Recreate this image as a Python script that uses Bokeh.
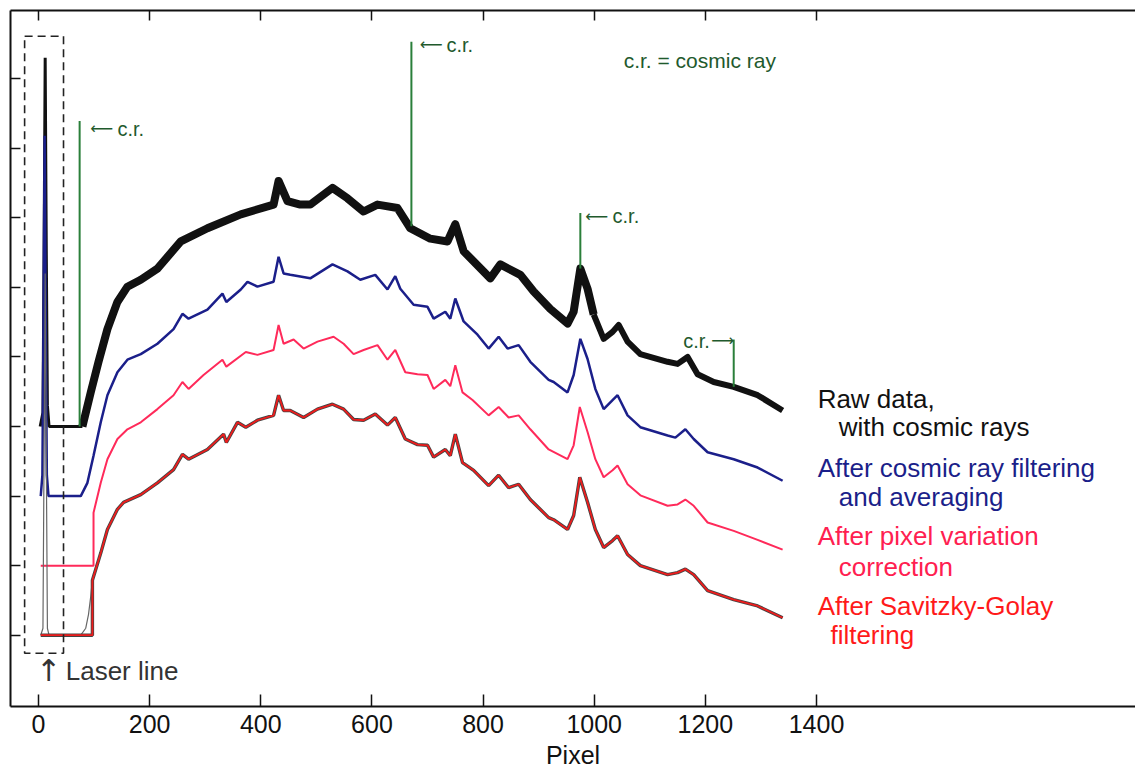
from bokeh.plotting import figure
from bokeh.models import Range1d, FixedTicker, LinearAxis, BoxAnnotation, Label, CustomLabelingPolicy
from bokeh.embed import file_html
from bokeh.resources import INLINE

# ---------------- data ----------------
# Raw data, with cosmic rays (offset 3)
black_pix = [3, 8, 10, 12, 14, 16, 19, 74, 79, 94, 108, 124, 142, 160, 184, 214,
             256, 304, 364, 423, 432, 448, 471, 489, 529, 556, 585, 610,
             646, 669, 705, 736, 750, 765, 813, 831, 867, 891, 921, 952,
             963, 975, 988, 999, 1017, 1033, 1044, 1060, 1083, 1132, 1150, 1168,
             1186, 1215, 1251, 1294, 1339]
black_y = [3.0, 3.2, 5.5, 8.30, 5.5, 3.3, 3.0, 3.0, 3.0, 3.49, 3.93, 4.40, 4.79, 5.01, 5.11, 5.27,
           5.66, 5.85, 6.05, 6.19, 6.53, 6.24, 6.19, 6.19, 6.43, 6.28, 6.09, 6.19,
           6.14, 5.85, 5.70, 5.66, 5.91, 5.52, 5.13, 5.33, 5.18, 4.94, 4.69, 4.48,
           4.65, 5.27, 4.98, 4.61, 4.26, 4.36, 4.46, 4.22, 4.04, 3.93, 3.90, 4.00,
           3.75, 3.64, 3.57, 3.45, 3.23]

# After cosmic ray filtering and averaging (offset 2)
blue_pix = [4, 7, 9, 11, 13, 15, 18, 76, 88, 99, 112, 124, 142, 160,
            184, 214, 243, 259, 270, 304, 331, 338, 364, 376, 394, 423, 432, 441,
            453, 489, 529, 556, 579, 606, 628, 642, 651, 675, 700, 711, 732, 741,
            750, 765, 790, 810, 828, 844, 864, 885, 918, 927, 952, 963, 975, 988,
            1002, 1017, 1033, 1042, 1060, 1083, 1132, 1146, 1164, 1179, 1204, 1251, 1294, 1339]
blue_y = [2.0, 2.3, 4.5, 7.18, 4.5, 2.3, 2.0, 2.0, 2.19, 2.58, 3.06, 3.45, 3.78, 3.96,
          4.04, 4.19, 4.40, 4.62, 4.55, 4.68, 4.91, 4.79, 4.97, 5.08, 5.01, 5.08, 5.44, 5.20,
          5.18, 5.13, 5.33, 5.23, 5.11, 5.18, 4.97, 5.16, 4.98, 4.75, 4.72, 4.55, 4.65, 4.55,
          4.84, 4.51, 4.32, 4.12, 4.29, 4.12, 4.17, 3.93, 3.67, 3.64, 3.49, 3.74, 4.26, 3.97,
          3.54, 3.25, 3.38, 3.45, 3.16, 2.99, 2.87, 2.84, 2.96, 2.82, 2.63, 2.53, 2.41, 2.22]

# After pixel variation correction (offset 1)
pink_pix = [4, 99, 99, 112, 124, 142, 160, 184, 214, 243, 259, 270, 297, 331,
            338, 373, 394, 423, 432, 441, 459, 477, 502, 531, 549, 567, 585, 610,
            628, 642, 660, 682, 700, 711, 732, 741, 750, 763, 781, 810, 828, 846,
            864, 885, 918, 952, 963, 974, 988, 1002, 1017, 1033, 1042, 1060, 1083, 1132,
            1150, 1164, 1179, 1204, 1251, 1294, 1339]
pink_y = [1.0, 1.0, 1.76, 2.19, 2.53, 2.82, 2.96, 3.06, 3.25, 3.45, 3.64, 3.54, 3.74, 3.96,
          3.86, 4.07, 4.03, 4.10, 4.46, 4.19, 4.25, 4.12, 4.22, 4.29, 4.19, 4.04, 4.10, 4.17,
          3.96, 4.10, 3.78, 3.75, 3.74, 3.54, 3.67, 3.58, 3.88, 3.49, 3.38, 3.16, 3.28, 3.13,
          3.16, 2.96, 2.67, 2.53, 2.73, 3.28, 2.92, 2.53, 2.27, 2.37, 2.44, 2.17, 2.01, 1.86,
          1.88, 1.95, 1.86, 1.62, 1.50, 1.37, 1.23]

# After Savitzky-Golay filtering (offset 0)
red_pix = [4, 97, 97, 112, 124, 142, 153, 184, 214, 243, 259, 270, 304, 333,
           338, 358, 373, 394, 423, 432, 441, 453, 477, 502, 529, 549, 567, 585,
           606, 628, 642, 660, 682, 700, 711, 732, 741, 750, 763, 783, 810, 828,
           846, 864, 885, 918, 927, 952, 963, 974, 988, 1002, 1017, 1033, 1042, 1060,
           1083, 1132, 1150, 1164, 1179, 1204, 1251, 1294, 1339]
red_y = [0.0, 0.0, 0.79, 1.18, 1.52, 1.81, 1.91, 2.02, 2.19, 2.38, 2.60, 2.53, 2.67, 2.89,
         2.77, 3.06, 2.99, 3.09, 3.16, 3.45, 3.23, 3.23, 3.13, 3.25, 3.32, 3.25, 3.10, 3.09,
         3.18, 3.02, 3.13, 2.82, 2.74, 2.73, 2.56, 2.67, 2.58, 2.89, 2.48, 2.37, 2.15, 2.30,
         2.12, 2.17, 1.95, 1.69, 1.66, 1.52, 1.72, 2.27, 1.91, 1.52, 1.26, 1.36, 1.43, 1.16,
         1.00, 0.87, 0.90, 0.95, 0.87, 0.64, 0.51, 0.42, 0.25]

# Unfiltered trace under the filtered one (laser line region)
gray_pix = [4, 8, 10, 12, 14, 16, 19, 76, 85, 90, 94, 97]
gray_y = [0.0, 0.1, 2.6, 5.2, 2.6, 0.1, 0.0, 0.0, 0.1, 0.3, 0.56, 0.8]

# Cosmic ray spikes
cr_pix = [74, 671, 975, 1251]
cr_base = [3.0, 5.88, 5.27, 3.57]
cr_top = [7.39, 8.53, 6.07, 4.25]

x_ticks = [0, 200, 400, 600, 800, 1000, 1200, 1400]
y_ticks = [0, 1, 2, 3, 4, 5, 6, 7, 8]

FONT = "Liberation Sans"
ARROW_FONT = "DejaVu Sans"
GREEN_LINE = "#2a7f3a"
GREEN_TEXT = "#1f5a2d"
BLACK = "#111111"
BLUE = "#1b1f8a"
PINK = "#ff2a5a"
RED = "#ee1c1c"

p = figure(width=1135, height=771, output_backend="svg", toolbar_location=None,
           x_range=Range1d(-50.4, 1974), y_range=Range1d(-1.025, 8.98),
           min_border_left=10, min_border_right=0, min_border_top=10, min_border_bottom=0)
p.outline_line_color = None
p.grid.visible = False
p.background_fill_color = "white"
p.border_fill_color = "white"

# bottom axis
xa = p.xaxis[0]
xa.ticker = FixedTicker(ticks=x_ticks)
xa.axis_label = "Pixel"
xa.axis_label_text_font = FONT
xa.axis_label_text_font_size = "25px"
xa.axis_label_text_font_style = "normal"
xa.axis_label_text_color = BLACK
xa.axis_label_standoff = 5
xa.major_label_text_font = FONT
xa.major_label_text_font_size = "25px"
xa.major_label_text_color = BLACK
xa.major_label_standoff = 8
xa.major_tick_in = 12
xa.major_tick_out = 0
xa.minor_tick_in = 0
xa.minor_tick_out = 0
xa.axis_line_width = 2
xa.major_tick_line_width = 1.5
xa.axis_line_color = BLACK
xa.major_tick_line_color = BLACK

# no labels on the left and top axes
ya = p.yaxis[0]
ya.ticker = FixedTicker(ticks=y_ticks)
ya.major_label_policy = CustomLabelingPolicy(code="return new Set()")
ya.major_label_text_font_size = "1px"
ya.major_label_standoff = 0
ya.major_tick_in = 10
ya.major_tick_out = 0
ya.minor_tick_in = 0
ya.minor_tick_out = 0
ya.axis_line_width = 2
ya.major_tick_line_width = 1.5
ya.axis_line_color = BLACK
ya.major_tick_line_color = BLACK

ta = LinearAxis(ticker=FixedTicker(ticks=x_ticks), major_label_text_font_size="1px",
                major_label_policy=CustomLabelingPolicy(code="return new Set()"),
                major_label_standoff=0, major_tick_in=10, major_tick_out=0,
                minor_tick_in=0, minor_tick_out=0, axis_line_width=2,
                major_tick_line_width=1.5, axis_line_color=BLACK, major_tick_line_color=BLACK)
p.add_layout(ta, "above")

# dashed box around the laser line
p.add_layout(BoxAnnotation(left=-25, right=45, bottom=-0.26, top=8.61,
                           fill_alpha=0, line_color="#222222", line_alpha=1.0,
                           line_width=1.6, line_dash="8 5"))

# traces
k1 = black_pix.index(79)
k2 = black_pix.index(999)
p.line(black_pix[:k1 + 1], black_y[:k1 + 1], line_color=BLACK, line_width=3)
p.line(black_pix[k1:k2 + 1], black_y[k1:k2 + 1], line_color=BLACK, line_width=8, line_join="round")
p.line(black_pix[k2:], black_y[k2:], line_color=BLACK, line_width=6, line_join="round")
p.segment(x0=cr_pix, y0=cr_base, x1=cr_pix, y1=cr_top, line_color=GREEN_LINE, line_width=2)
p.line(blue_pix, blue_y, line_color=BLUE, line_width=2.5)
p.line(pink_pix, pink_y, line_color=PINK, line_width=2)
p.line(gray_pix, gray_y, line_color="#666666", line_width=1.2)
p.line(red_pix, red_y, line_color="#444444", line_width=3.4)
p.line(red_pix, red_y, line_color=RED, line_width=1.8)


def lab(x, y, t, color, size="26px", align="left", font=FONT):
    p.add_layout(Label(x=x, y=y, text=t, text_font=font, text_font_size=size,
                       text_color=color, text_baseline="middle", text_align=align))


# cosmic ray labels
lab(93, 7.28, "\u27f5", GREEN_TEXT, "16px", font=ARROW_FONT)
lab(142, 7.28, "c.r.", GREEN_TEXT, "20px")
lab(686, 8.49, "\u27f5", GREEN_TEXT, "16px", font=ARROW_FONT)
lab(734, 8.49, "c.r.", GREEN_TEXT, "20px")
lab(984, 6.02, "\u27f5", GREEN_TEXT, "16px", font=ARROW_FONT)
lab(1033, 6.02, "c.r.", GREEN_TEXT, "20px")
lab(1208, 4.23, "c.r.", GREEN_TEXT, "20px", "right")
lab(1252, 4.23, "\u27f6", GREEN_TEXT, "16px", "right", ARROW_FONT)
lab(1053, 8.26, "c.r. = cosmic ray", GREEN_TEXT, "21px")

# laser line label
lab(18, -0.51, "\u2191", "#333333", "30px", "center", ARROW_FONT)
lab(49, -0.52, "Laser line", "#333333", "26px")

# legend texts
lab(1402, 3.39, "Raw data,", BLACK)
lab(1440, 2.99, "with cosmic rays", BLACK)
lab(1402, 2.41, "After cosmic ray filtering", BLUE)
lab(1440, 1.98, "and averaging", BLUE)
lab(1402, 1.43, "After pixel variation", "#ff2050")
lab(1440, 0.98, "correction", "#ff2050")
lab(1402, 0.42, "After Savitzky-Golay", "#ff1a1a")
lab(1425, 0.01, "filtering", "#ff1a1a")

open("out.html", "w").write(file_html(p, INLINE))
